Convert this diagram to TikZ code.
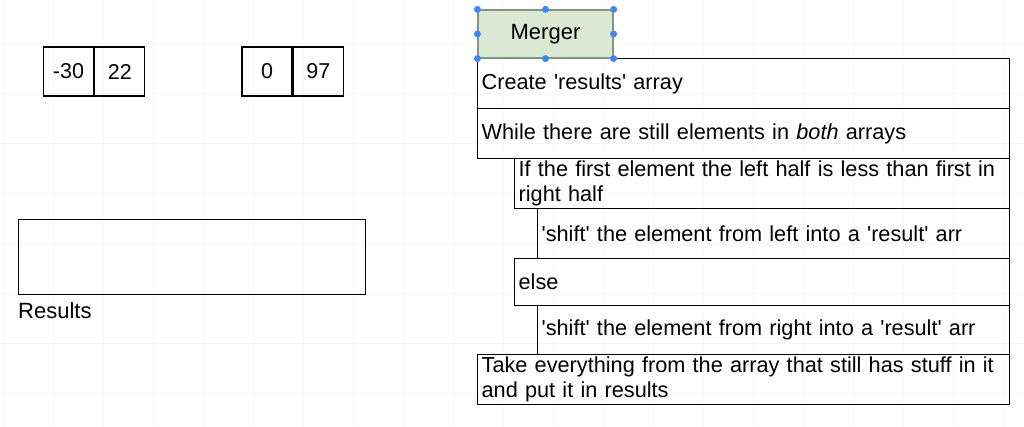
\documentclass[tikz,border=0pt]{standalone}
\usepackage{fontspec}
\setmainfont{Liberation Sans}
\usetikzlibrary{positioning}

\definecolor{mergerfill}{RGB}{218,232,212}
\definecolor{mergerline}{RGB}{130,150,125}
\definecolor{handleblue}{RGB}{66,133,244}

\newcommand{\sq}{\textquotesingle}

\tikzset{
  gridline/.style={black!3, line width=0.8pt},
  cell/.style={draw, line width=1.3pt, minimum width=50pt, minimum height=49pt, inner sep=0pt, font=\fontsize{21.5}{23}\selectfont},
  stepbox/.style={draw, line width=1.3pt, anchor=north west, inner xsep=4pt, inner ysep=0pt, align=left, font=\fontsize{21.7}{25}\selectfont},
  handle/.style={circle, fill=handleblue, inner sep=0pt, minimum size=7pt},
}

\begin{document}
\begin{tikzpicture}[x=1pt, y=-1pt]

\useasboundingbox (0,0) rectangle (1024,426);
\fill[white] (0,0) rectangle (1024,426);
\foreach \gx in {3,53,...,1003} \draw[gridline] (\gx,0) -- (\gx,426);
\foreach \gy in {43,93,...,393} \draw[gridline] (0,\gy) -- (1024,\gy);

\node[cell] (L_1) at (68.5,71.5) {-30};
\node[cell, right=0pt of L_1] (L_2) {22};

\node[cell] (R_1) at (267,71.5) {0};
\node[cell, right=0pt of R_1] (R_2) {97};

\node[draw, line width=1.3pt, minimum width=347pt, minimum height=75pt, anchor=north west] (res) at (18,219) {};
\node[font=\fontsize{22}{23}\selectfont, anchor=north west, inner sep=0pt] (res_label) at (18,302) {Results};

\node[stepbox, minimum width=532pt, minimum height=50pt, text width=524pt] (M_1) at (477,58) {Create \sq results\sq{} array};
\node[stepbox, minimum width=532pt, minimum height=50pt, text width=524pt] (M_2) at (477,108) {While there are still elements in \textit{both} arrays};
\node[stepbox, minimum width=495pt, minimum height=50pt, text width=487pt] (M_3) at (514,158) {If the first element the left half is less than first in\\right half};
\node[stepbox, minimum width=472pt, minimum height=50pt, text width=464pt] (M_4) at (537,208) {\sq shift\sq{} the element from left into a \sq result\sq{} arr};
\node[stepbox, minimum width=495pt, minimum height=47pt, text width=487pt] (M_5) at (514,258) {else};
\node[stepbox, minimum width=472pt, minimum height=49pt, text width=464pt] (M_6) at (537,305) {\sq shift\sq{} the element from right into a \sq result\sq{} arr};
\node[stepbox, minimum width=532pt, minimum height=50pt, text width=524pt] (M_7) at (477,354) {Take everything from the array that still has stuff in it\\and put it in results};

\node[draw=mergerline, fill=mergerfill, line width=1.2pt, minimum width=135pt, minimum height=48pt, font=\fontsize{22}{23}\selectfont] (merger) at (545.5,34) {Merger};
\foreach \a [count=\i] in {north west,north,north east,west,east,south west,south,south east}
  \node[handle] (h_\i) at (merger.\a) {};

\end{tikzpicture}
\end{document}
